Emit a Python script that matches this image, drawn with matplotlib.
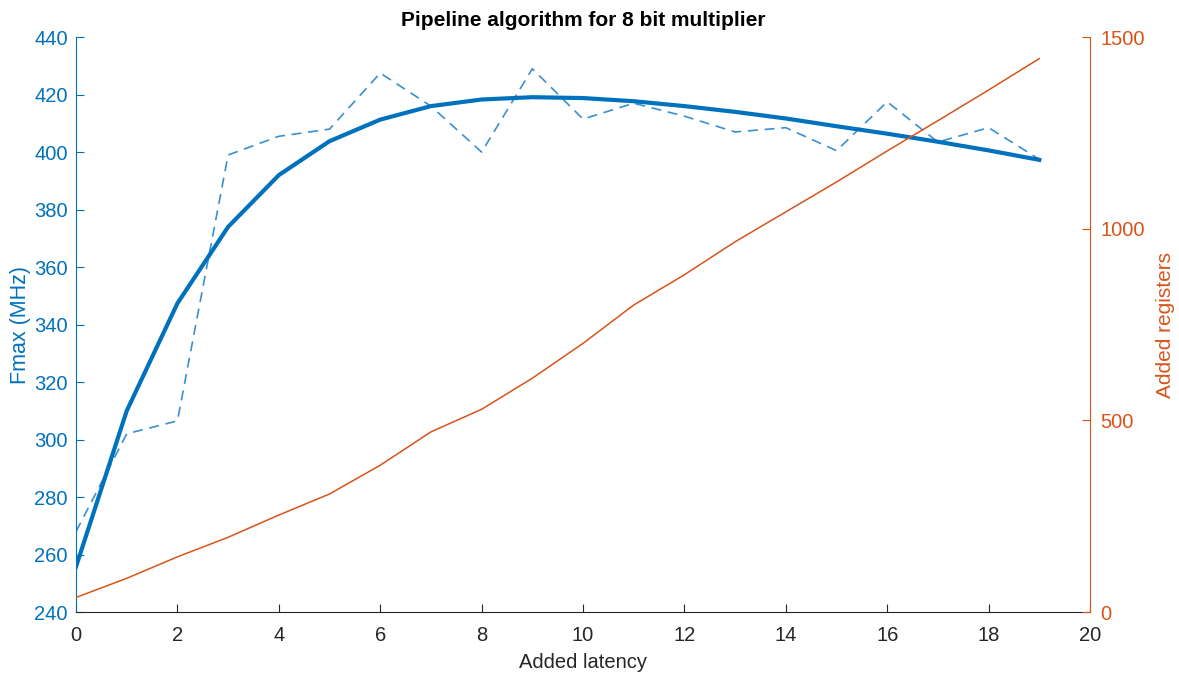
import numpy as np
import matplotlib
matplotlib.use("Agg")
import matplotlib.pyplot as plt

plt.rcParams['font.family'] = ['Liberation Sans', 'DejaVu Sans']

# data
latency = list(range(20))
fmax_raw = [268, 302, 306.5, 399, 405.5, 408, 427.5, 416, 400, 429,
            411.5, 417, 412.5, 407, 408.5, 400.5, 417.5, 403.5, 408.5, 397.5]
fmax_fit = [255.8, 310, 347.4, 374, 392, 403.8, 411.3, 416, 418.3, 419.1,
            418.8, 417.7, 416, 414, 411.7, 409, 406.4, 403.6, 400.6, 397.3]
registers = [38, 88, 144, 195, 253, 308, 383, 470, 529, 610,
             701, 801, 880, 966, 1044, 1122, 1203, 1282, 1362, 1444]

blue = '#0072BD'
orange = '#D95319'
gray = '#262626'

fig = plt.figure(figsize=(11.79, 6.75), dpi=100)
ax = fig.add_axes([0.0645, 0.0933, 0.8600, 0.8517])
ax2 = ax.twinx()

ax.plot(latency, fmax_raw, '--', color='#3A8FD2', lw=1.2, dashes=(6, 4))
ax.plot(latency, fmax_fit, '-', color=blue, lw=3)
ax2.plot(latency, registers, '-', color=orange, lw=1.1)

ax.set_xlim(0, 20)
ax.set_ylim(240, 440)
ax2.set_ylim(0, 1500)
ax.set_xticks(range(0, 21, 2))
ax.set_yticks(range(240, 441, 20))
ax2.set_yticks([0, 500, 1000, 1500])

ax.set_title('Pipeline algorithm for 8 bit multiplier', fontsize=15, fontweight='bold', pad=8)
ax.set_xlabel('Added latency', fontsize=14.5, color=gray, labelpad=6)
ax.set_ylabel('Fmax (MHz)', fontsize=15.5, color=blue, labelpad=2.5)
ax2.set_ylabel('Added registers', fontsize=15, color=orange, labelpad=8)

for a in (ax, ax2):
    a.spines['top'].set_visible(False)
ax.spines['right'].set_visible(False)
ax.spines['left'].set_color(blue)
ax.spines['bottom'].set_color(gray)
ax2.spines['left'].set_visible(False)
ax2.spines['bottom'].set_visible(False)
ax2.spines['right'].set_color(orange)

ax.tick_params(axis='x', direction='in', length=6, colors=gray, labelsize=14.5, pad=10)
ax.tick_params(axis='y', direction='in', length=6, colors=blue, labelsize=14.5, pad=6)
ax2.tick_params(axis='y', direction='in', length=6, colors=orange, labelsize=14.5, pad=7.5)

fig.savefig('out.png', dpi=100)
